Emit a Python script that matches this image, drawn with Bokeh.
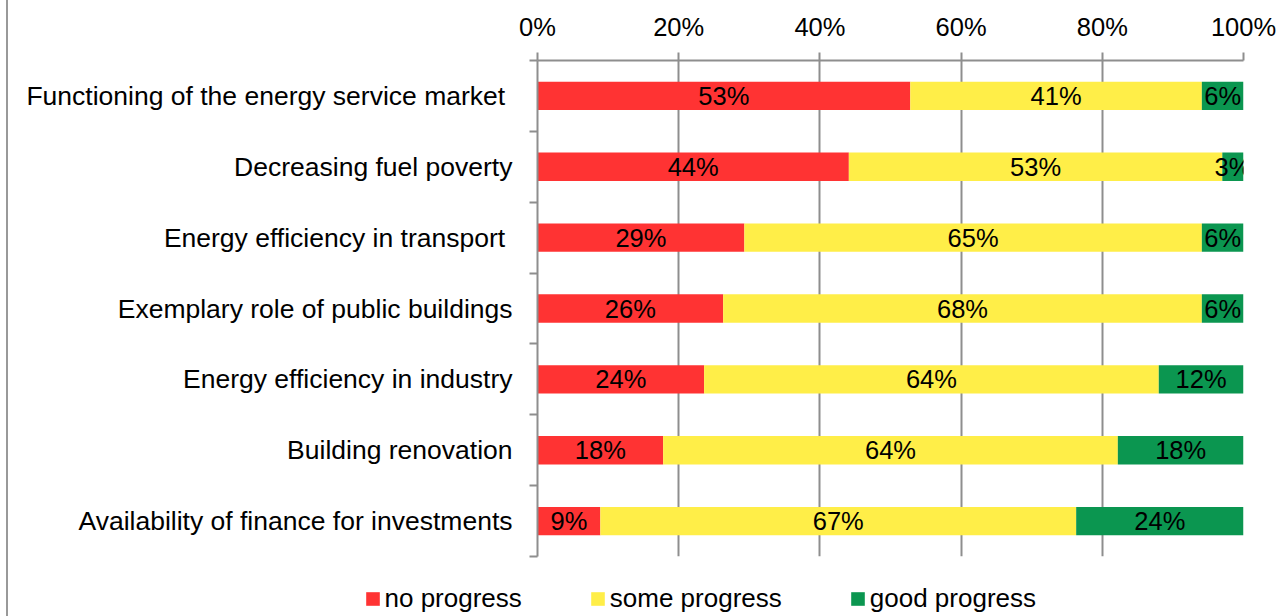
from bokeh.plotting import figure
from bokeh.layouts import column, row
from bokeh.models import Range1d, FixedTicker, Legend, LegendItem, ColumnDataSource, Spacer
from bokeh.core.properties import value
from bokeh.embed import file_html
from bokeh.resources import INLINE

# categories top to bottom
categories = [
    "Functioning of the energy service market ",
    "Decreasing fuel poverty",
    "Energy efficiency in transport ",
    "Exemplary role of public buildings",
    "Energy efficiency in industry",
    "Building renovation",
    "Availability of finance for investments",
]
no_progress = [52.8, 44.1, 29.3, 26.3, 23.6, 17.8, 8.9]
some_progress = [41.3, 52.9, 64.8, 67.8, 64.4, 64.4, 67.4]
good_progress = [5.9, 3.0, 5.9, 5.9, 12.0, 17.8, 23.7]
series_names = ["no progress", "some progress", "good progress"]
colors = ["#FF3333", "#FFEE48", "#0B9650"]
x_ticks = [0, 20, 40, 60, 80, 100]

FONT = "Liberation Sans"
GRAY = "#8E8E8E"

n = len(categories)
ypos = [n - i - 0.5 for i in range(n)]

src = ColumnDataSource(dict(y=ypos, no=no_progress, some=some_progress, good=good_progress))

W = 1271  # width of chart column (a thin frame line sits to its left)

p = figure(width=W, height=560, output_backend="svg", toolbar_location=None,
           x_range=Range1d(0, 100), y_range=Range1d(0, n), x_axis_location="above",
           min_border_left=529, min_border_right=36, min_border_top=60, min_border_bottom=4)
p.frame_align = False
p.outline_line_color = None
p.background_fill_color = "white"
p.border_fill_color = "white"

renderers = p.hbar_stack(["no", "some", "good"], y="y", height=0.4, color=colors,
                         line_color=None, source=src)

# data labels
for vals, start in [(no_progress, [0] * n),
                    (some_progress, no_progress),
                    (good_progress, [a + b for a, b in zip(no_progress, some_progress)])]:
    mids = [s + v / 2 for s, v in zip(start, vals)]
    labs = [f"{v:.0f}%" for v in vals]
    p.text(x=mids, y=ypos, text=labs, text_align="center", text_baseline="middle",
           text_font=value(FONT), text_font_size="25.5px", text_color="black")

# x axis (top)
xa = p.xaxis[0]
xa.ticker = FixedTicker(ticks=x_ticks, minor_ticks=[])
xa.major_label_overrides = {t: f"{t}%" for t in x_ticks}
xa.axis_line_color = GRAY
xa.axis_line_width = 2
xa.major_tick_line_color = GRAY
xa.major_tick_line_width = 2
xa.major_tick_in = 0
xa.major_tick_out = 8
xa.minor_tick_line_color = None
xa.major_label_text_font = FONT
xa.major_label_text_font_size = "25.5px"
xa.major_label_text_color = "black"
xa.major_label_standoff = 12

# y axis (left), labels at centres, ticks at boundaries
ya = p.yaxis[0]
ya.ticker = FixedTicker(ticks=ypos, minor_ticks=list(range(n + 1)))
ya.major_label_overrides = {y: c for y, c in zip(ypos, categories)}
ya.axis_line_color = GRAY
ya.axis_line_width = 2
ya.major_tick_line_color = None
ya.major_tick_in = 0
ya.major_tick_out = 0
ya.minor_tick_line_color = GRAY
ya.minor_tick_line_width = 2
ya.minor_tick_in = 0
ya.minor_tick_out = 8
ya.major_label_text_font = FONT
ya.major_label_text_font_size = "26.5px"
ya.major_label_text_color = "black"
ya.major_label_standoff = 17

p.ygrid.visible = False
p.xgrid.ticker = FixedTicker(ticks=x_ticks, minor_ticks=[])
p.xgrid.grid_line_color = GRAY
p.xgrid.grid_line_width = 2

# legend strip below the chart (same series, bars kept out of view)
lf = figure(width=W, height=56, output_backend="svg", toolbar_location=None,
            x_range=Range1d(0, 100), y_range=Range1d(n + 10, n + 11),
            min_border_left=0, min_border_right=0, min_border_top=0, min_border_bottom=0)
lf.frame_align = False
lf.outline_line_color = None
lf.axis.visible = False
lf.grid.visible = False
lf.border_fill_color = "white"
lf.background_fill_color = "white"
leg_renderers = lf.hbar_stack(["no", "some", "good"], y="y", height=0.4, color=colors,
                              line_color=None, source=src)

legend = Legend(items=[LegendItem(label=nm, renderers=[r]) for nm, r in zip(series_names, leg_renderers)],
                location=(355.5, 2), orientation="horizontal",
                glyph_width=17, glyph_height=17, label_standoff=4, spacing=67,
                padding=0, margin=0, border_line_color=None, background_fill_alpha=0,
                label_text_font=FONT, label_text_font_size="26px", label_text_color="black")
lf.add_layout(legend)

gap = Spacer(width=6, height=616)
frame_line = Spacer(width=2, height=616, styles={"background-color": "#999999"})

layout = row(gap, frame_line, column(p, lf, spacing=0), spacing=0)
open("out.html", "w").write(file_html(layout, INLINE))
